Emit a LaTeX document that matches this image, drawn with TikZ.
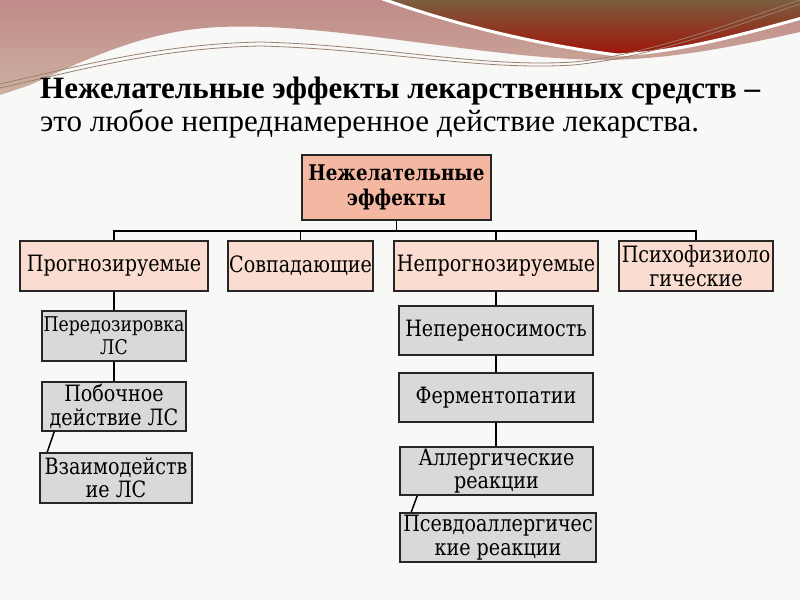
\documentclass[tikz,border=0pt]{standalone}
\usepackage{fontspec}
\setmainfont{Liberation Serif}
\newfontfamily\boxfont[FakeStretch=0.85]{DejaVu Serif}
\usetikzlibrary{positioning}

\definecolor{slidebg}{HTML}{F8F8F6}
\definecolor{rootfill}{HTML}{F4B8A2}
\definecolor{kindfill}{HTML}{FADCD0}
\definecolor{itemfill}{HTML}{D9D9D9}
\definecolor{swoosh}{HTML}{9A8070}
\definecolor{rosetop}{HTML}{C08A88}
\definecolor{tanbottom}{HTML}{CDB0A0}
\definecolor{darktop}{HTML}{7A6040}
\definecolor{darkbottom}{HTML}{A01408}

\begin{document}
\begin{tikzpicture}[x=1pt,y=-1pt]
\tikzstyle{every node}+=[inner sep=0pt]
\tikzstyle{box}=[draw=black!85,line width=1.6pt,align=center,font=\boxfont\fontsize{22.5}{23.5}\selectfont]
\tikzstyle{rootbox}=[box,fill=rootfill,font=\boxfont\bfseries\fontsize{21.6}{25}\selectfont]
\tikzstyle{kindbox}=[box,fill=kindfill,minimum height=50pt]
\tikzstyle{itembox}=[box,fill=itemfill,minimum height=49pt]
\tikzstyle{link}=[black,line width=1.5pt]
\fill [slidebg] (0,0) rectangle (800,600);
\useasboundingbox (0,0) rectangle (800,600);
% top decoration
\shade [top color=rosetop,bottom color=tanbottom] (0,0) -- (800,0) -- (800,32) .. controls (720,50) and (660,60) .. (600,60) .. controls (480,58) and (330,22) .. (220,27) .. controls (150,30) and (95,55) .. (30,85) -- (0,95) -- cycle;
\shade [top color=darktop,bottom color=darkbottom,draw=white,line width=3pt] (380,-2) -- (802,-2) -- (802,18) .. controls (740,35) and (680,52) .. (617,55) .. controls (540,45) and (455,25) .. (380,-2) -- cycle;
\draw [swoosh,line width=0.8pt] (0,84) .. controls (80,66) and (160,44) .. (260,42) .. controls (380,45) and (480,68) .. (573,62) .. controls (650,55) and (740,20) .. (800,0);
\draw [swoosh,line width=0.8pt] (0,88) .. controls (80,70) and (160,48) .. (260,46) .. controls (380,49) and (480,71) .. (573,65) .. controls (650,58) and (740,24) .. (800,4);
% title
\node [anchor=base west,font=\bfseries\fontsize{31}{34}\selectfont] (title1) at (40,98) {Нежелательные эффекты лекарственных средств –};
\node [anchor=base west,font=\fontsize{31}{34}\selectfont] (title2) at (40,131) {это любое непреднамеренное действие лекарства.};
% tree
\node [rootbox,minimum width=189pt,minimum height=65pt] (root) at (396.5,187.5) {Нежелательные\\эффекты};
\node [kindbox,minimum width=188pt] (prog) at (114,266) {Прогнозируемые};
\node [kindbox,minimum width=145pt] (sovp) at (300.5,266) {Совпадающие};
\node [kindbox,minimum width=204pt] (neprog) at (496,266) {Непрогнозируемые};
\node [kindbox,minimum width=154pt] (psy) at (696,266) {Психофизиоло\\гические};
\node [itembox,minimum width=144pt,minimum height=50pt,font=\boxfont\fontsize{20.3}{23}\selectfont] (pered) at (114,336) {Передозировка\\ЛС};
\node [itembox,minimum width=144pt] (pob) at (114,406.5) {Побочное\\действие ЛС};
\node [itembox,minimum width=152pt,minimum height=50pt] (vzaim) at (116,478) {Взаимодейств\\ие ЛС};
\node [itembox,minimum width=194pt] (neper) at (496,330.5) {Непереносимость};
\node [itembox,minimum width=194pt] (ferm) at (496,397.5) {Ферментопатии};
\node [itembox,minimum width=193pt,minimum height=48pt] (allerg) at (496.5,471) {Аллергические\\реакции};
\node [itembox,minimum width=196pt] (psevdo) at (498,537.5) {Псевдоаллергичес\\кие реакции};
\coordinate (bus) at (396.5,231);
\draw [link] (root.south) -- (bus);
\draw [link] (prog.north) |- (bus) -| (psy.north);
\draw [link] (sovp.north) -- (sovp.north |- bus);
\draw [link] (neprog.north) -- (neprog.north |- bus);
\draw [link] (prog.south) -- (prog.south |- pered.north);
\draw [link] (pered.south) -- (pered.south |- pob.north);
\draw [link] ([xshift=13pt]pob.south west) -- ([xshift=8pt]vzaim.north west);
\draw [link] (neprog.south) -- (neprog.south |- neper.north);
\draw [link] (neper.south) -- (neper.south |- ferm.north);
\draw [link] (ferm.south) -- (ferm.south |- allerg.north);
\draw [link] ([xshift=18pt]allerg.south west) -- ([xshift=12pt]psevdo.north west);
\end{tikzpicture}
\end{document}
